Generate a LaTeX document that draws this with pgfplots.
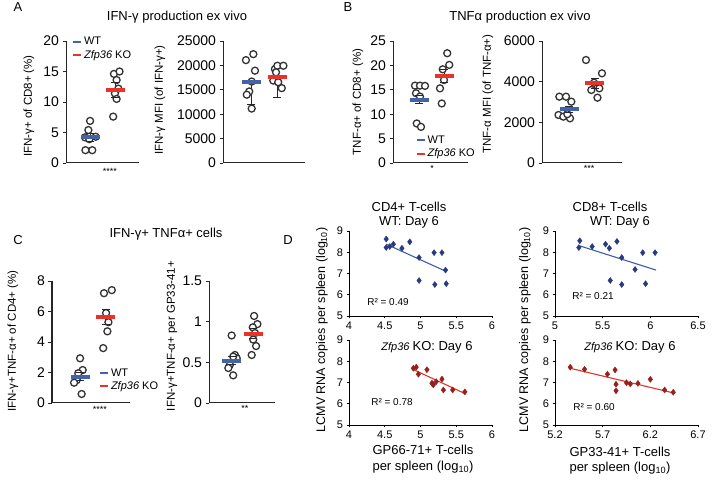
\documentclass[border=0pt]{standalone}
\usepackage{fontspec}
\setmainfont{Liberation Sans}
\usepackage{pgfplots}
\pgfplotsset{compat=1.18}
\newcommand{\fsz}[1]{\fontsize{#1}{#1}\selectfont}
\definecolor{wtblue}{RGB}{66,98,170}
\definecolor{kored}{RGB}{232,52,40}
\definecolor{dblue}{RGB}{40,58,128}
\definecolor{dline}{RGB}{62,92,168}
\definecolor{dred}{RGB}{150,32,30}
\definecolor{dredline}{RGB}{226,52,40}
\pgfplotsset{
  panel/.style={scale only axis, anchor=south west, axis lines*=left,
    axis line style={black!85, line width=1pt, -}, xmin=0, xmax=3, ymin=0,
    xtick=\empty, tick align=outside, major tick length=3.5pt,
    ytick style={black!85, line width=0.9pt},
    tick label style={font=\fsz{14}}, scaled y ticks=false,
    /pgf/number format/assume math mode=true, /pgf/number format/1000 sep={},
    clip=false,
    legend style={draw=none, fill=none, font=\fsz{11}, inner sep=0pt, row sep=0pt, cells={anchor=west}},
    legend image code/.code={\draw[#1] (0pt,0pt) -- (8pt,0pt);}},
  dpanel/.style={scale only axis, anchor=south west, axis lines*=left,
    axis line style={black, line width=0.9pt, -}, ymin=5, ymax=9, ytick={5,6,7,8,9},
    tick align=outside, major tick length=2.5pt, tick style={black, line width=0.8pt},
    tick label style={font=\fsz{11}}, /pgf/number format/assume math mode=true, clip=false},
  dot/.style={only marks, mark=*, mark size=3.5pt, mark options={draw=black!80, fill=white, line width=1.3pt}},
  ebar/.style={black!85, line width=1pt, mark=-, mark size=4pt, mark options={solid, line width=1pt}},
  meanwt/.style={only marks, mark=-, mark size=9.5pt, mark options={draw=wtblue, line width=4pt}},
  meanko/.style={only marks, mark=-, mark size=9.5pt, mark options={draw=kored, line width=4pt}},
  dwt/.style={only marks, mark=diamond*, mark size=3pt, mark options={draw=dblue, fill=dblue}},
  dko/.style={only marks, mark=diamond*, mark size=3pt, mark options={draw=dred, fill=dred}},
}
\begin{document}
\begin{tikzpicture}[x=1pt,y=1pt]
\useasboundingbox (0,0) rectangle (713,494);

% ---------- panel letters and titles
\node[font=\fsz{13}] at (18,487) {A};
\node[font=\fsz{13}] at (348,487) {B};
\node[font=\fsz{13}] at (18,254) {C};
\node[font=\fsz{13}] at (288,254) {D};
\node[font=\fsz{13}] at (177,477) {IFN-γ production ex vivo};
\node[font=\fsz{13}] at (520,477) {TNFα production ex vivo};
\node[font=\fsz{13}] at (166,260) {IFN-γ+ TNFα+ cells};

% ---------- y labels A-C
\node[font=\fsz{11.5}, rotate=90] at (29,388) {IFN-γ+ of CD8+ (\%)};
\node[font=\fsz{11.5}, rotate=90] at (160,394) {IFN-γ MFI (of IFN-γ+)};
\node[font=\fsz{11.5}, rotate=90] at (358,392) {TNF-α+ of CD8+ (\%)};
\node[font=\fsz{11.5}, rotate=90] at (488,400) {TNF-α MFI (of TNF-α+)};
\node[font=\fsz{11.5}, rotate=90] at (13,153) {IFN-γ+TNF-α+ of CD4+ (\%)};
\node[font=\fsz{11.5}, rotate=90] at (172,158) {IFN-γ+TNF-α+ per GP33-41+};

% ---------- significance stars
\node[font=\fsz{9}] at (110,323) {****};
\node[font=\fsz{9}] at (432,326) {*};
\node[font=\fsz{9}] at (589,326) {***};
\node[font=\fsz{9}] at (100,85) {****};
\node[font=\fsz{9}] at (245,86) {**};

% ---------- A left
\begin{axis}[panel, at={(66pt,331pt)}, width=73pt, height=122pt, ymax=20, ytick={0,5,10,15,20},
  legend style={at={(0.08,1.05)}, anchor=north west}]
\addlegendimage{draw=wtblue, line width=2pt}\addlegendentry{WT}
\addlegendimage{draw=kored, line width=2pt}\addlegendentry{\textit{Zfp36} KO}
\addplot[dot] coordinates {(0.99,6.9) (0.92,5.4) (0.78,4.2) (1.22,4.3) (0.96,3.9) (0.80,2.1) (1.08,2.1)};
\addplot[dot] coordinates {(1.97,14.6) (2.20,15.0) (2.08,13.6) (2.15,12.2) (2.01,11.4) (2.08,10.5) (1.94,7.6)};
\addplot[ebar] coordinates {(1.00,3.6) (1.00,4.8)};
\addplot[ebar] coordinates {(2.03,10.8) (2.03,13.2)};
\addplot[meanwt] coordinates {(1.00,4.2)};
\addplot[meanko] coordinates {(2.03,12.0)};
\end{axis}

% ---------- A right
\begin{axis}[panel, at={(223pt,331pt)}, width=82pt, height=122pt, ymax=25000, ytick={0,5000,10000,15000,20000,25000}]
\addplot[dot] coordinates {(0.84,21080) (1.11,22300) (1.17,18920) (1.05,16690) (0.96,14660) (0.87,13990) (1.05,11150)};
\addplot[dot] coordinates {(1.90,19260) (1.99,19930) (2.21,19930) (1.94,18580) (1.84,16890) (2.02,16550) (2.15,15340)};
\addplot[ebar] coordinates {(1.04,11950) (1.04,16550)};
\addplot[ebar] coordinates {(1.98,13380) (1.98,17570)};
\addplot[meanwt] coordinates {(1.04,16550)};
\addplot[meanko] coordinates {(1.98,17570)};
\end{axis}

% ---------- B left
\begin{axis}[panel, at={(393pt,331pt)}, width=75pt, height=122pt, ymax=25, ytick={0,5,10,15,20,25},
  legend style={at={(0.30,0.02)}, anchor=south west}]
\addlegendimage{draw=wtblue, line width=2pt}\addlegendentry{WT}
\addlegendimage{draw=kored, line width=2pt}\addlegendentry{\textit{Zfp36} KO}
\addplot[dot] coordinates {(0.88,15.85) (1.08,15.85) (1.28,15.8) (0.92,14.3) (1.08,13.6) (0.95,8.1) (1.12,7.4)};
\addplot[dot] coordinates {(2.17,22.5) (2.25,20.1) (1.99,19.2) (2.04,17.0) (1.88,15.3) (1.95,12.2)};
\addplot[ebar] coordinates {(1.04,12.1) (1.04,13.9)};
\addplot[ebar] coordinates {(2.04,16.5) (2.04,19.1)};
\addplot[meanwt] coordinates {(1.04,13.0)};
\addplot[meanko] coordinates {(2.04,17.8)};
\end{axis}

% ---------- B right
\begin{axis}[panel, at={(542pt,331pt)}, width=80pt, height=122pt, ymax=6000, ytick={0,2000,4000,6000}]
\addplot[dot] coordinates {(0.65,3262) (0.90,3262) (1.10,3016) (0.62,2361) (0.80,2279) (1.05,2197) (0.95,2400)};
\addplot[dot] coordinates {(1.65,5066) (2.25,4410) (1.85,3590) (2.15,3672) (2.08,3213) (1.95,3950)};
\addplot[ebar] coordinates {(1.02,2490) (1.02,2790)};
\addplot[ebar] coordinates {(1.97,3668) (1.97,4168)};
\addplot[meanwt] coordinates {(1.02,2640)};
\addplot[meanko] coordinates {(1.97,3918)};
\end{axis}

% ---------- C left
\begin{axis}[panel, at={(52pt,91pt)}, width=78pt, height=122pt, ymax=8, ytick={0,2,4,6,8},
  legend style={at={(0.60,0.08)}, anchor=south west}]
\addlegendimage{draw=wtblue, line width=2pt}\addlegendentry{WT}
\addlegendimage{draw=kored, line width=2pt}\addlegendentry{\textit{Zfp36} KO}
\addplot[dot] coordinates {(1.08,2.93) (1.18,2.16) (0.95,1.5) (0.85,1.33) (1.01,1.95) (1.14,0.59)};
\addplot[dot] coordinates {(2.30,7.4) (2.00,7.2) (2.08,5.9) (2.17,5.3) (2.13,4.7) (1.97,3.6)};
\addplot[ebar] coordinates {(1.08,1.48) (1.08,1.98)};
\addplot[ebar] coordinates {(2.07,5.16) (2.07,6.16)};
\addplot[meanwt] coordinates {(1.08,1.73)};
\addplot[meanko] coordinates {(2.07,5.66)};
\end{axis}

% ---------- C right
\begin{axis}[panel, at={(209pt,91pt)}, width=66pt, height=122pt, ymax=1.5, ytick={0,0.5,1,1.5}]
\addplot[dot] coordinates {(1.03,0.83) (1.18,0.59) (0.95,0.47) (0.88,0.43) (1.10,0.34) (1.26,0.55) (1.10,0.57)};
\addplot[dot] coordinates {(2.05,1.07) (2.20,0.97) (1.99,0.93) (2.09,0.86) (2.01,0.78) (2.14,0.70) (1.94,0.59)};
\addplot[ebar] coordinates {(1.03,0.47) (1.03,0.57)};
\addplot[ebar] coordinates {(2.01,0.79) (2.01,0.91)};
\addplot[meanwt] coordinates {(1.03,0.52)};
\addplot[meanko] coordinates {(2.01,0.85)};
\end{axis}

% ---------- D texts
\node[font=\fsz{13}] at (409,287) {CD4+ T-cells};
\node[font=\fsz{13}] at (409,272) {WT: Day 6};
\node[font=\fsz{13}] at (610,287) {CD8+ T-cells};
\node[font=\fsz{13}] at (620,272) {WT: Day 6};
\node[font=\fsz{13}] at (427,147) {\fsz{11}\textit{Zfp36} \fsz{13}KO: Day 6};
\node[font=\fsz{13}] at (630,147) {\fsz{11}\textit{Zfp36} \fsz{13}KO: Day 6};
\node[font=\fsz{10}] at (388,192) {R² = 0.49};
\node[font=\fsz{10}] at (392,92) {R² = 0.78};
\node[font=\fsz{10}] at (593,198) {R² = 0.21};
\node[font=\fsz{10}] at (594,87) {R² = 0.60};
\node[font=\fsz{13}] at (423,44) {GP66-71+ T-cells};
\node[font=\fsz{13}] at (423,27) {per spleen (log\textsubscript{10})};
\node[font=\fsz{13}] at (620,42) {GP33-41+ T-cells};
\node[font=\fsz{13}] at (620,26) {per spleen (log\textsubscript{10})};
\node[font=\fsz{12.5}, rotate=90] at (322,164) {LCMV RNA copies per spleen (log\textsubscript{10})};
\node[font=\fsz{12.5}, rotate=90] at (525,164) {LCMV RNA copies per spleen (log\textsubscript{10})};

% ---------- D left top
\begin{axis}[dpanel, at={(349pt,178pt)}, width=143pt, height=85pt, xmin=4, xmax=6, xtick={4,4.5,5,5.5,6}]
\addplot[dwt] coordinates {(4.52,8.62) (4.52,8.22) (4.57,8.27) (4.62,8.38) (4.74,8.19) (4.85,8.49) (4.98,7.75) (4.98,6.67) (5.19,7.98) (5.30,7.98) (5.35,7.16) (5.20,6.48) (5.36,6.52)};
\addplot[dline, line width=1.1pt, no marks] coordinates {(4.52,8.38) (5.35,7.11)};
\end{axis}

% ---------- D left bottom
\begin{axis}[dpanel, at={(349pt,69pt)}, width=143pt, height=85pt, xmin=4, xmax=6, xtick={4,4.5,5,5.5,6}]
\addplot[dko] coordinates {(4.90,7.67) (4.94,7.72) (4.97,7.39) (5.09,7.60) (5.16,6.97) (5.18,6.89) (5.22,7.04) (5.30,7.16) (5.32,6.65) (5.45,6.65) (5.62,6.56) (5.17,6.93)};
\addplot[dredline, line width=1.1pt, no marks] coordinates {(4.88,7.64) (5.64,6.45)};
\end{axis}

% ---------- D right top
\begin{axis}[dpanel, at={(555pt,178pt)}, width=143pt, height=85pt, xmin=5, xmax=6.5, xtick={5,5.5,6,6.5}]
\addplot[dwt] coordinates {(5.26,8.54) (5.25,8.22) (5.39,8.27) (5.53,8.38) (5.57,8.19) (5.65,8.51) (5.70,7.75) (5.58,6.67) (5.70,6.48) (5.84,7.19) (5.92,7.98) (6.05,7.98) (5.95,6.52)};
\addplot[dline, line width=1.1pt, no marks] coordinates {(5.26,8.30) (6.06,7.16)};
\end{axis}

% ---------- D right bottom
\begin{axis}[dpanel, at={(555pt,69pt)}, width=143pt, height=85pt, xmin=5.2, xmax=6.7, xtick={5.2,5.7,6.2,6.7}]
\addplot[dko] coordinates {(5.36,7.72) (5.51,7.62) (5.75,7.39) (5.83,7.59) (5.84,6.92) (5.84,6.61) (5.95,6.99) (5.99,6.93) (6.07,6.96) (6.20,7.15) (6.35,6.65) (6.44,6.54)};
\addplot[dredline, line width=1.1pt, no marks] coordinates {(5.36,7.67) (6.46,6.49)};
\end{axis}
\end{tikzpicture}
\end{document}
